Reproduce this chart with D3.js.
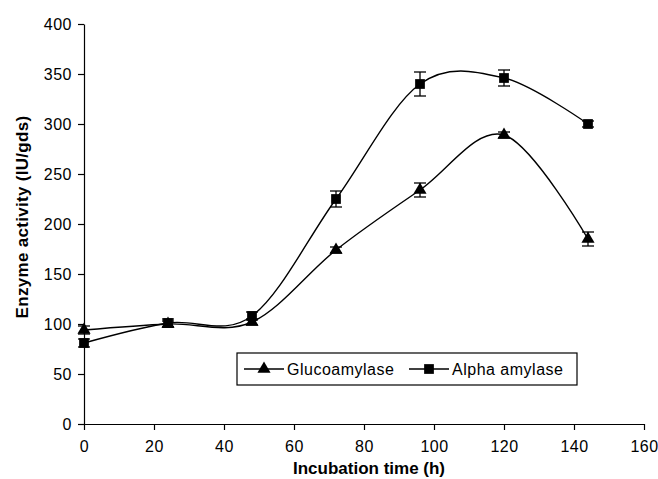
<!DOCTYPE html>
<html>
<head>
<meta charset="utf-8">
<script src="https://cdn.jsdelivr.net/npm/d3@7"></script>
<style>
  body { margin: 0; background: #fff; }
  svg text { font-family: "Liberation Sans", Arial, sans-serif; fill: #000; }
</style>
</head>
<body>
<div id="chart"></div>
<script>
// incubation time (h)
const hours = [0, 24, 48, 72, 96, 120, 144];

// enzyme activity (IU/gds)
const glucoamylase = [94, 100, 102, 174, 234, 289, 185];
const glucoErr = [4, 3, 3, 3, 7, 3, 7];
const alphaAmylase = [81, 101, 108, 225, 340, 346, 300];
const alphaErr = [4, 4, 4, 8, 12, 8, 3];

const xTicks = [0, 20, 40, 60, 80, 100, 120, 140, 160];
const yTicks = [0, 50, 100, 150, 200, 250, 300, 350, 400];

const seriesNames = ["Glucoamylase", "Alpha amylase"];

let margin = {top: 24, right: 14, bottom: 55, left: 84};
let width = 658, height = 479;

let svg = d3.select("#chart").append("svg")
    .attr("width", width)
    .attr("height", height);

let x = d3.scaleLinear().domain([0, 160]).range([margin.left, width - margin.right]);
let y = d3.scaleLinear().domain([0, 400]).range([height - margin.bottom, margin.top]);

// axes
let xAxis = svg.append("g")
    .attr("transform", "translate(0," + y(0) + ")")
    .call(d3.axisBottom(x).tickValues(xTicks).tickSize(6).tickSizeOuter(0).tickPadding(11));
let yAxis = svg.append("g")
    .attr("transform", "translate(" + x(0) + ",0)")
    .call(d3.axisLeft(y).tickValues(yTicks).tickSize(6).tickSizeOuter(0).tickPadding(6));

[xAxis, yAxis].forEach(a => {
    a.select(".domain").attr("stroke", "#000").attr("stroke-width", 1.2);
    a.selectAll(".tick line").attr("stroke", "#000").attr("stroke-width", 1.2);
    a.selectAll(".tick text")
        .style("font-size", "16px")
        .style("letter-spacing", "0.5px")
        .attr("fill", "#000");
});

// axis titles
svg.append("text")
    .attr("x", 369)
    .attr("y", 474)
    .attr("text-anchor", "middle")
    .style("font-size", "17px")
    .style("font-weight", "bold")
    .text("Incubation time (h)");

svg.append("text")
    .attr("transform", "translate(28,217) rotate(-90)")
    .attr("text-anchor", "middle")
    .style("font-size", "17px")
    .style("font-weight", "bold")
    .style("letter-spacing", "0.3px")
    .text("Enzyme activity (IU/gds)");

let line = d3.line()
    .x(d => x(d[0]))
    .y(d => y(d[1]))
    .curve(d3.curveCardinal.tension(0));

let series = [
    {name: seriesNames[0], values: glucoamylase, err: glucoErr, symbol: d3.symbolTriangle, size: 75},
    {name: seriesNames[1], values: alphaAmylase, err: alphaErr, symbol: d3.symbolSquare, size: 95}
];

series.forEach(s => {
    let pts = hours.map((h, i) => [h, s.values[i], s.err[i]]);

    svg.append("path")
        .datum(pts)
        .attr("d", line)
        .attr("fill", "none")
        .attr("stroke", "#000")
        .attr("stroke-width", 1.4);

    // error bars
    let eb = svg.append("g").selectAll("g")
        .data(pts)
        .enter().append("g");
    eb.append("line")
        .attr("x1", d => x(d[0])).attr("x2", d => x(d[0]))
        .attr("y1", d => y(d[1] - d[2])).attr("y2", d => y(d[1] + d[2]))
        .attr("stroke", "#000").attr("stroke-width", 1.3);
    eb.selectAll(".cap")
        .data(d => [[d[0], d[1] - d[2]], [d[0], d[1] + d[2]]])
        .enter().append("line")
        .attr("x1", d => x(d[0]) - 6).attr("x2", d => x(d[0]) + 6)
        .attr("y1", d => y(d[1])).attr("y2", d => y(d[1]))
        .attr("stroke", "#000").attr("stroke-width", 1.3);

    // markers
    svg.append("g").selectAll("path")
        .data(pts)
        .enter().append("path")
        .attr("transform", d => "translate(" + x(d[0]) + "," + y(d[1]) + ")")
        .attr("d", d3.symbol().type(s.symbol).size(s.size))
        .attr("fill", "#000");
});

// legend
let legend = svg.append("g").attr("transform", "translate(237,353)");
legend.append("rect")
    .attr("width", 340).attr("height", 32)
    .attr("fill", "#fff").attr("stroke", "#000").attr("stroke-width", 1.2);

let legendX = [7, 172];
series.forEach((s, i) => {
    let g = legend.append("g").attr("transform", "translate(" + legendX[i] + ",16)");
    g.append("line").attr("x1", 0).attr("x2", 40).attr("stroke", "#000").attr("stroke-width", 1.4);
    g.append("path")
        .attr("transform", "translate(20,0)")
        .attr("d", d3.symbol().type(s.symbol).size(s.size))
        .attr("fill", "#000");
    g.append("text")
        .attr("x", 43).attr("y", 6)
        .style("font-size", "16px")
        .style("letter-spacing", "0.5px")
        .text(s.name);
});
</script>
</body>
</html>
